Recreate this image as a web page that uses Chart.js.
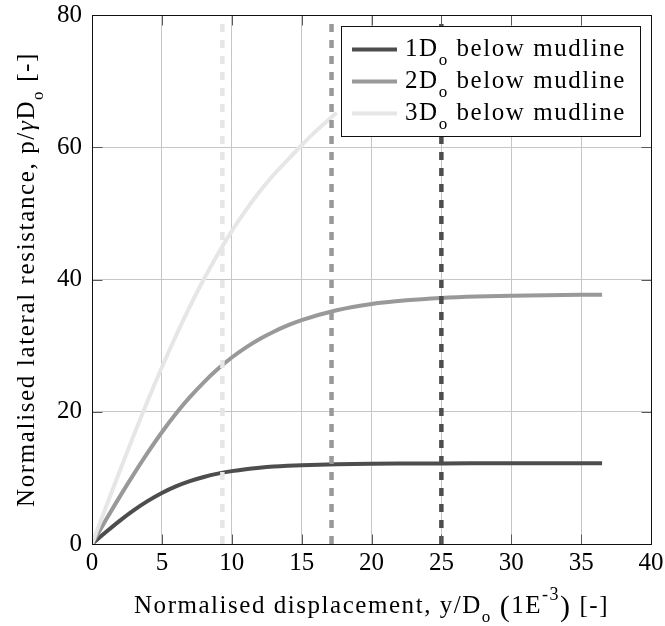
<!DOCTYPE html>
<html>
<head>
<meta charset="utf-8">
<script src="https://cdn.jsdelivr.net/npm/chart.js@4.4.1/dist/chart.umd.min.js"></script>
<style>
  html, body { margin: 0; padding: 0; background: #ffffff; }
  #wrap { position: relative; width: 665px; height: 626px; }
  canvas { display: block; }
</style>
</head>
<body>
<div id="wrap"><canvas id="chart" width="665" height="626"></canvas></div>
<script>
// ---------- data ----------
const dispX = [0, 1, 2, 3, 4, 5, 6, 7, 8, 9, 10, 11, 12, 13, 14, 15, 17.5, 20, 22.5, 25, 27.5, 30, 32.5, 35, 36.5];
const res1D = [0, 1.81, 3.54, 5.12, 6.52, 7.72, 8.71, 9.51, 10.14, 10.64, 11.02, 11.32, 11.54, 11.71, 11.83, 11.92, 12.07, 12.14, 12.17, 12.19, 12.2, 12.2, 12.2, 12.2, 12.2];
const res2D = [0, 3.65, 7.2, 10.6, 13.85, 16.9, 19.7, 22.2, 24.45, 26.45, 28.2, 29.7, 31.0, 32.1, 33.05, 33.85, 35.35, 36.3, 36.85, 37.2, 37.42, 37.55, 37.63, 37.68, 37.7];
const dispX3 = [0, 1, 2, 3, 4, 5, 6, 7, 8, 9, 10, 11, 12, 13, 14, 15, 16, 17.5];
const res3D = [0, 5.59, 11.12, 16.52, 21.74, 26.74, 31.46, 35.9, 40.03, 43.82, 47.31, 50.46, 53.3, 55.84, 58.1, 60.3, 62.4, 65.2];
const markerX = [9.33, 17.14, 25];           // vertical dashed limit lines (3D, 2D, 1D)
const seriesNames = ['1D', '2D', '3D'];
const seriesSuffix = ' below mudline';
const xTickValues = [0, 5, 10, 15, 20, 25, 30, 35, 40];
const yTickValues = [0, 20, 40, 60, 80];
const xTitleParts = [['Normalised displacement, y/D', 'n'], ['o', 'sub'], [' ', 'n'], ['(', 'big'], ['1E', 'n'], ['-3', 'sup'], [')', 'big'], [' [-]', 'n']];
const yTitleParts = [['Normalised lateral resistance, p/', 'n'], ['\u03B3', 'it'], ['D', 'n'], ['o', 'sub'], [' [-]', 'n']];

// ---------- styles ----------
const seriesColors = ['#4d4d4d', '#999999', '#e6e6e6'];
const markerColors = ['#e6e6e6', '#999999', '#4d4d4d'];
const FONT = "'Liberation Serif', 'Times New Roman', serif";
const BASE = 25;

function partFont(kind, base) {
  switch (kind) {
    case 'sub': return { font: `${Math.round(base * 0.68)}px ${FONT}`, dy: base * 0.36 };
    case 'sup': return { font: `${Math.round(base * 0.7)}px ${FONT}`, dy: -base * 0.52 };
    case 'it':  return { font: `italic ${base}px ${FONT}`, dy: 0 };
    case 'big': return { font: `${Math.round(base * 1.2)}px ${FONT}`, dy: base * 0.12 };
    default:    return { font: `${base}px ${FONT}`, dy: 0 };
  }
}
function richWidth(ctx, parts, base, ls) {
  let w = 0;
  for (const [t, k] of parts) {
    ctx.font = partFont(k, base).font;
    ctx.letterSpacing = ls + 'px';
    w += ctx.measureText(t).width;
  }
  return w;
}
function charCount(parts) { return parts.reduce((s, p) => s + p[0].length, 0); }
function fitSpacing(ctx, parts, base, target) {
  const w0 = richWidth(ctx, parts, base, 0);
  return Math.max(0, (target - w0) / charCount(parts));
}
function drawRich(ctx, parts, x, y, base, ls) {
  ctx.textAlign = 'left';
  ctx.textBaseline = 'alphabetic';
  let cx = x;
  for (const [t, k] of parts) {
    const f = partFont(k, base);
    ctx.font = f.font;
    ctx.letterSpacing = ls + 'px';
    ctx.fillText(t, cx, y + f.dy);
    cx += ctx.measureText(t).width;
  }
}

const decorPlugin = {
  id: 'decor',
  afterDatasetsDraw(chart) {
    const { ctx, chartArea: a, scales: { x, y } } = chart;
    const L = Math.round(a.left) + 0.5, R = Math.round(a.right) + 0.5;
    const T = Math.round(a.top) + 0.5, B = Math.round(a.bottom) + 0.5;
    ctx.save();
    // inward tick marks on all four sides
    ctx.strokeStyle = '#5a5a5a';
    ctx.lineWidth = 1;
    ctx.beginPath();
    xTickValues.forEach(v => {
      const px = Math.round(x.getPixelForValue(v)) + 0.5;
      ctx.moveTo(px, B); ctx.lineTo(px, B - 10);
      ctx.moveTo(px, T); ctx.lineTo(px, T + 10);
    });
    yTickValues.forEach(v => {
      const py = Math.round(y.getPixelForValue(v)) + 0.5;
      ctx.moveTo(L, py); ctx.lineTo(L + 10, py);
      ctx.moveTo(R, py); ctx.lineTo(R - 10, py);
    });
    ctx.stroke();
    // axis box
    ctx.strokeStyle = '#111';
    ctx.strokeRect(L, T, R - L, B - T);

    // legend
    const lx = 341.5, ly = 26.5, lw = 299, lh = 110;
    ctx.fillStyle = '#ffffff';
    ctx.fillRect(lx, ly, lw, lh);
    ctx.strokeStyle = '#111';
    ctx.lineWidth = 1;
    ctx.strokeRect(lx, ly, lw, lh);
    const rows = seriesNames.map(n => [[n, 'n'], ['o', 'sub'], [seriesSuffix, 'n']]);
    const ls = fitSpacing(ctx, rows[0], BASE, 221);
    rows.forEach((parts, i) => {
      const cy = 49.5 + i * 32;
      ctx.strokeStyle = seriesColors[i];
      ctx.lineWidth = 4;
      ctx.lineCap = 'butt';
      ctx.beginPath();
      ctx.moveTo(352, cy); ctx.lineTo(397, cy);
      ctx.stroke();
      ctx.fillStyle = '#000';
      drawRich(ctx, parts, 405, 55.5 + i * 32, BASE, ls);
    });
    ctx.restore();
  },
  afterDraw(chart) {
    const { ctx, chartArea: a } = chart;
    ctx.save();
    ctx.fillStyle = '#000';
    // x title
    const lsx = fitSpacing(ctx, xTitleParts, BASE, 475);
    const wx = richWidth(ctx, xTitleParts, BASE, lsx);
    drawRich(ctx, xTitleParts, (a.left + a.right) / 2 - wx / 2, 612.5, BASE, lsx);
    // y title (rotated)
    const lsy = fitSpacing(ctx, yTitleParts, BASE, 455);
    const wy = richWidth(ctx, yTitleParts, BASE, lsy);
    ctx.translate(34, (a.top + a.bottom) / 2);
    ctx.rotate(-Math.PI / 2);
    drawRich(ctx, yTitleParts, -wy / 2, 0, BASE, lsy);
    ctx.restore();
  }
};

const curveDatasets = [
  { label: '1D\u2092 below mudline', xs: dispX, ys: res1D },
  { label: '2D\u2092 below mudline', xs: dispX, ys: res2D },
  { label: '3D\u2092 below mudline', xs: dispX3, ys: res3D }
].map((s, i) => ({
  label: s.label,
  data: s.xs.map((xv, j) => ({ x: xv, y: s.ys[j] })),
  borderColor: seriesColors[i],
  backgroundColor: seriesColors[i],
  borderWidth: 4,
  pointRadius: 0,
  fill: false,
  cubicInterpolationMode: 'monotone',
  order: 2 + (2 - i)
}));

const markerDatasets = markerX.map((mx, i) => ({
  label: 'limit ' + (3 - i),
  data: [{ x: mx, y: yTickValues[0] }, { x: mx, y: yTickValues[yTickValues.length - 1] }],
  borderColor: markerColors[i],
  borderWidth: 4.5,
  borderDash: [8, 8],
  borderCapStyle: 'butt',
  pointRadius: 0,
  fill: false,
  order: 0
}));

new Chart(document.getElementById('chart').getContext('2d'), {
  type: 'line',
  data: { datasets: [...curveDatasets, ...markerDatasets] },
  options: {
    responsive: false,
    animation: false,
    events: [],
    layout: { padding: { left: 0, right: 14, top: 15, bottom: 0 } },
    plugins: { legend: { display: false }, tooltip: { enabled: false }, title: { display: false } },
    scales: {
      x: {
        type: 'linear',
        min: xTickValues[0], max: xTickValues[xTickValues.length - 1],
        afterBuildTicks(s) { s.ticks = xTickValues.map(v => ({ value: v })); },
        ticks: { color: '#000', font: { family: FONT, size: BASE }, padding: 4, maxRotation: 0, autoSkip: false },
        grid: { color: '#c6c6c6', lineWidth: 1, drawTicks: false },
        border: { display: false },
        afterFit(s) { s.height = 82; s.paddingLeft = 0; s.paddingRight = 0; }
      },
      y: {
        type: 'linear',
        min: yTickValues[0], max: yTickValues[yTickValues.length - 1],
        afterBuildTicks(s) { s.ticks = yTickValues.map(v => ({ value: v })); },
        ticks: { color: '#000', font: { family: FONT, size: BASE }, padding: 10, autoSkip: false },
        grid: { color: '#c6c6c6', lineWidth: 1, drawTicks: false },
        border: { display: false },
        afterFit(s) { s.width = 92; s.paddingTop = 0; s.paddingBottom = 0; }
      }
    }
  },
  plugins: [decorPlugin]
});
</script>
</body>
</html>
